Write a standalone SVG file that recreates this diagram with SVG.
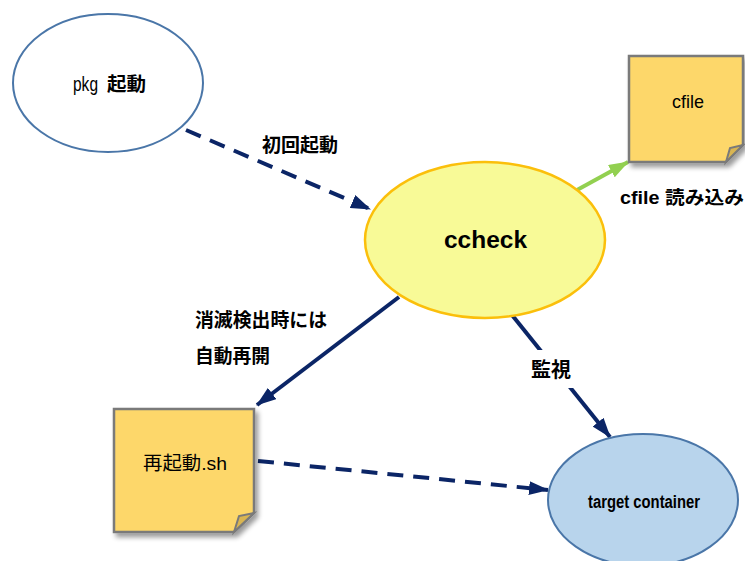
<svg xmlns="http://www.w3.org/2000/svg" width="745" height="561" viewBox="0 0 745 561">
<style>
.t{font-family:"Liberation Sans","Noto Sans CJK JP",sans-serif;fill:#000}
.b{font-weight:bold}
.line{fill:none;stroke:#0b2566;stroke-width:4}
.dash{stroke-dasharray:16 10}
.note{fill:#fdd76a;stroke:#7a7a7a;stroke-width:2.5}
.fold{fill:#d9b552;stroke:#7a7a7a;stroke-width:2}
</style>
<defs>
<marker id="ah" viewBox="0 0 20 14" refX="19" refY="7" markerWidth="20" markerHeight="14" markerUnits="userSpaceOnUse" orient="auto">
<path d="M0,0 L20,7 L0,14 Z" fill="#0b2566"/>
</marker>
<marker id="ahg" viewBox="0 0 20 14" refX="19" refY="7" markerWidth="20" markerHeight="14" markerUnits="userSpaceOnUse" orient="auto">
<path d="M0,0 L20,7 L0,14 Z" fill="#92d050"/>
</marker>
<filter id="sh" x="-20%" y="-20%" width="140%" height="140%">
<feGaussianBlur in="SourceAlpha" stdDeviation="2.5"/>
<feOffset dx="3" dy="4"/>
<feComponentTransfer><feFuncA type="linear" slope="0.4"/></feComponentTransfer>
<feMerge><feMergeNode/><feMergeNode in="SourceGraphic"/></feMerge>
</filter>
</defs>
<rect width="745" height="561" fill="#fff"/>
<g id="connectors">
<path class="line dash" d="M186,130 L370,209" marker-end="url(#ah)"/>
<path d="M577,190 L628,162" fill="none" stroke="#92d050" stroke-width="4" marker-end="url(#ahg)"/>
<path class="line" d="M399,297 L257,405" marker-end="url(#ah)"/>
<path class="line" d="M512,315 L610,437" marker-end="url(#ah)"/>
<path class="line dash" d="M258,461 L548,490" marker-end="url(#ah)"/>
<rect x="528" y="350" width="48" height="38" fill="#fff"/>
<text class="t b" x="262" y="152" font-size="19" textLength="76" lengthAdjust="spacingAndGlyphs">初回起動</text>
<text class="t b" x="620" y="204" font-size="18" textLength="124" lengthAdjust="spacingAndGlyphs">cfile 読み込み</text>
<text class="t b" x="195" y="327" font-size="19" textLength="132" lengthAdjust="spacingAndGlyphs">消滅検出時には</text>
<text class="t b" x="195" y="363" font-size="19" textLength="75" lengthAdjust="spacingAndGlyphs">自動再開</text>
<text class="t b" x="531" y="377" font-size="20" textLength="40" lengthAdjust="spacingAndGlyphs">監視</text>
</g>
<g id="pkg">
<ellipse cx="108" cy="83" rx="95" ry="69" fill="#fff" stroke="#4a76a8" stroke-width="2"/>
<text class="t" x="73" y="91" font-size="21" textLength="25" lengthAdjust="spacingAndGlyphs">pkg</text>
<text class="t b" x="107" y="91" font-size="19" textLength="39" lengthAdjust="spacingAndGlyphs">起動</text>
</g>
<g id="ccheck">
<ellipse cx="485" cy="240" rx="120" ry="78" fill="#f8fa97" stroke="#fbbf0b" stroke-width="2.5"/>
<text class="t b" x="444" y="248" font-size="24" textLength="83" lengthAdjust="spacingAndGlyphs">ccheck</text>
</g>
<g id="cfile">
<path class="note" filter="url(#sh)" d="M629,56 L743,56 L743,145 L726,162 L629,162 Z"/>
<path class="fold" d="M743,145 L730,148 L726,162 Z"/>
<text class="t" x="672" y="108" font-size="19" textLength="32" lengthAdjust="spacingAndGlyphs">cfile</text>
</g>
<g id="restart">
<path class="note" filter="url(#sh)" d="M114,409 L254,409 L254,513 L234,532 L114,532 Z"/>
<path class="fold" d="M254,513 L239,516 L234,532 Z"/>
<text class="t" x="143" y="470" font-size="19" textLength="84" lengthAdjust="spacingAndGlyphs">再起動.sh</text>
</g>
<g id="target">
<ellipse cx="643" cy="500" rx="95" ry="66" fill="#b8d4ec" stroke="#4a76a8" stroke-width="2"/>
<text class="t b" x="588" y="508" font-size="18" textLength="112" lengthAdjust="spacingAndGlyphs">target container</text>
</g>
</svg>
